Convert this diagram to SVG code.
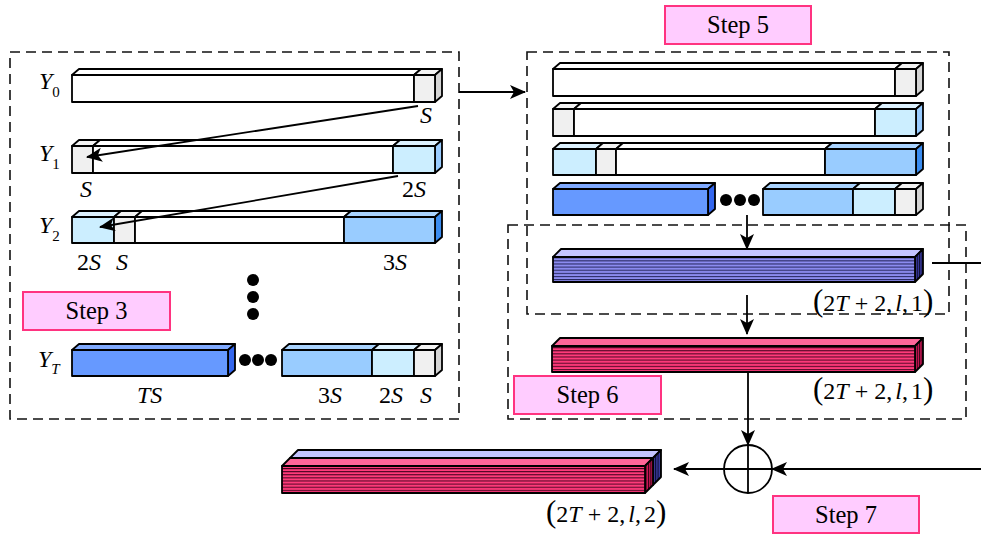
<svg xmlns="http://www.w3.org/2000/svg" width="981" height="534" viewBox="0 0 981 534">
  <defs>
    <style>
      .dash { fill: none; stroke: #111; stroke-width: 1.6; stroke-dasharray: 10 6; }
      .bar { stroke: #000; stroke-width: 1.8; stroke-linejoin: round; }
      .wf { fill: #ffffff; } .wt { fill: #ffffff; }
      .gf { fill: #f0f0f0; } .gt { fill: #f4f4f4; } .gs { fill: #d4d4d4; }
      .lf { fill: #cceeff; } .lt { fill: #ddf2ff; } .ls { fill: #99ccff; }
      .mf { fill: #99ccff; } .mt { fill: #aad4ff; } .ms { fill: #3a8cf0; }
      .df { fill: #6699ff; } .dt { fill: #80aaff; } .ds { fill: #3366ee; }
      .step rect { fill: #ffccff; stroke: #ff3380; stroke-width: 2; }
      .step text { font-family: "Liberation Serif", "Times New Roman", serif; font-size: 24.5px; text-anchor: middle; fill: #000; }
      .m { font-family: "Liberation Serif", "Times New Roman", serif; font-size: 24px; font-style: italic; fill: #000; }
      .n { font-style: normal; }
      .sub { font-size: 15px; }
      .dot { fill: #000; }
      .con { fill: none; stroke: #000; stroke-width: 1.8; }
    </style>
    <marker id="ah" markerUnits="userSpaceOnUse" viewBox="0 0 16 14" refX="15" refY="7" markerWidth="16" markerHeight="14" orient="auto">
      <path d="M0,0 L16,7 L0,14 L4,7 Z" fill="#000"/>
    </marker>
    <pattern id="bstripe" patternUnits="userSpaceOnUse" width="10" height="3.1">
      <rect width="10" height="3.1" fill="#8c8cf0"/>
      <rect width="10" height="1" fill="#1c1c50"/>
    </pattern>
    <pattern id="rstripe" patternUnits="userSpaceOnUse" width="10" height="3.1">
      <rect width="10" height="3.1" fill="#ff3a7a"/>
      <rect width="10" height="1" fill="#40001c"/>
    </pattern>
    <pattern id="bside" patternUnits="userSpaceOnUse" width="2.4" height="10">
      <rect width="2.4" height="10" fill="#3a3aa0"/>
      <rect width="1" height="10" fill="#0a0a28"/>
    </pattern>
    <pattern id="rside" patternUnits="userSpaceOnUse" width="2.4" height="10">
      <rect width="2.4" height="10" fill="#d01858"/>
      <rect width="1" height="10" fill="#2a0010"/>
    </pattern>
  </defs>

  <!-- dashed frames -->
  <g id="frames">
    <rect class="dash" x="10" y="52" width="449" height="367"/>
    <rect class="dash" x="527" y="52" width="422" height="262"/>
    <rect class="dash" x="508" y="225" width="458" height="194"/>
  </g>

  <!-- Y0 -->
  <g id="y0" class="bar">
    <polygon class="wt" points="72,75 79,69 421,69 414,75"/>
    <polygon class="gt" points="414,75 421,69 442,69 435,75"/>
    <polygon class="gs" points="435,75 442,69 442,96 435,102"/>
    <rect class="wf" x="72" y="75" width="342" height="27"/>
    <rect class="gf" x="414" y="75" width="21" height="27"/>
  </g>

  <!-- Y1 -->
  <g id="y1" class="bar">
    <polygon class="gt" points="72,146 79,140 100,140 93,146"/>
    <polygon class="wt" points="93,146 100,140 400,140 393,146"/>
    <polygon class="lt" points="393,146 400,140 442,140 435,146"/>
    <polygon class="ls" points="435,146 442,140 442,167 435,173"/>
    <rect class="gf" x="72" y="146" width="21" height="27"/>
    <rect class="wf" x="93" y="146" width="300" height="27"/>
    <rect class="lf" x="393" y="146" width="42" height="27"/>
  </g>

  <!-- Y2 -->
  <g id="y2" class="bar">
    <polygon class="lt" points="72,217 79,211 121,211 114,217"/>
    <polygon class="gt" points="114,217 121,211 142,211 135,217"/>
    <polygon class="wt" points="135,217 142,211 351,211 344,217"/>
    <polygon class="mt" points="344,217 351,211 442,211 435,217"/>
    <polygon class="ms" points="435,217 442,211 442,237 435,243"/>
    <rect class="lf" x="72" y="217" width="42" height="26"/>
    <rect class="gf" x="114" y="217" width="21" height="26"/>
    <rect class="wf" x="135" y="217" width="209" height="26"/>
    <rect class="mf" x="344" y="217" width="91" height="26"/>
  </g>

  <!-- YT -->
  <g id="yt" class="bar">
    <polygon class="dt" points="72,350 79,344 235,344 228,350"/>
    <polygon class="ds" points="228,350 235,344 235,370 228,376"/>
    <rect class="df" x="72" y="350" width="156" height="26"/>
    <polygon class="mt" points="282,350 289,344 379,344 372,350"/>
    <polygon class="lt" points="372,350 379,344 421,344 414,350"/>
    <polygon class="gt" points="414,350 421,344 442,344 435,350"/>
    <polygon class="gs" points="435,350 442,344 442,370 435,376"/>
    <rect class="mf" x="282" y="350" width="90" height="26"/>
    <rect class="lf" x="372" y="350" width="42" height="26"/>
    <rect class="gf" x="414" y="350" width="21" height="26"/>
  </g>

  <!-- ellipsis dots -->
  <g id="dots">
    <circle class="dot" cx="253" cy="280" r="6"/>
    <circle class="dot" cx="253" cy="297" r="6"/>
    <circle class="dot" cx="253" cy="314" r="6"/>
    <circle class="dot" cx="245" cy="360" r="6"/>
    <circle class="dot" cx="258" cy="360" r="6"/>
    <circle class="dot" cx="271" cy="360" r="6"/>
    <circle class="dot" cx="726" cy="200" r="6"/>
    <circle class="dot" cx="740" cy="200" r="6"/>
    <circle class="dot" cx="754" cy="200" r="6"/>
  </g>

  <!-- left labels -->
  <g id="labels-left">
    <text class="m" x="39" y="89">Y<tspan class="sub n" dy="8">0</tspan></text>
    <text class="m" x="39" y="161">Y<tspan class="sub n" dy="8">1</tspan></text>
    <text class="m" x="39" y="233">Y<tspan class="sub n" dy="8">2</tspan></text>
    <text class="m" x="38" y="367">Y<tspan class="sub" dy="7">T</tspan></text>
    <text class="m" x="420" y="123">S</text>
    <text class="m" x="80" y="197">S</text>
    <text class="m" x="402" y="197"><tspan class="n">2</tspan>S</text>
    <text class="m" x="77" y="270"><tspan class="n">2</tspan>S</text>
    <text class="m" x="116" y="270">S</text>
    <text class="m" x="383" y="270"><tspan class="n">3</tspan>S</text>
    <text class="m" x="137" y="403">TS</text>
    <text class="m" x="318" y="403"><tspan class="n">3</tspan>S</text>
    <text class="m" x="379" y="403"><tspan class="n">2</tspan>S</text>
    <text class="m" x="420" y="403">S</text>
  </g>

  <!-- Step 5 rows -->
  <g id="r1" class="bar">
    <polygon class="wt" points="553,69 560,63 902,63 895,69"/>
    <polygon class="gt" points="895,69 902,63 923,63 916,69"/>
    <polygon class="gs" points="916,69 923,63 923,90 916,96"/>
    <rect class="wf" x="553" y="69" width="342" height="27"/>
    <rect class="gf" x="895" y="69" width="21" height="27"/>
  </g>
  <g id="r2" class="bar">
    <polygon class="gt" points="553,109 560,103 581,103 574,109"/>
    <polygon class="wt" points="574,109 581,103 882,103 875,109"/>
    <polygon class="lt" points="875,109 882,103 923,103 916,109"/>
    <polygon class="ls" points="916,109 923,103 923,130 916,136"/>
    <rect class="gf" x="553" y="109" width="21" height="27"/>
    <rect class="wf" x="574" y="109" width="301" height="27"/>
    <rect class="lf" x="875" y="109" width="41" height="27"/>
  </g>
  <g id="r3" class="bar">
    <polygon class="lt" points="553,149 560,143 603,143 596,149"/>
    <polygon class="gt" points="596,149 603,143 623,143 616,149"/>
    <polygon class="wt" points="616,149 623,143 832,143 825,149"/>
    <polygon class="mt" points="825,149 832,143 923,143 916,149"/>
    <polygon class="ms" points="916,149 923,143 923,169 916,175"/>
    <rect class="lf" x="553" y="149" width="43" height="26"/>
    <rect class="gf" x="596" y="149" width="20" height="26"/>
    <rect class="wf" x="616" y="149" width="209" height="26"/>
    <rect class="mf" x="825" y="149" width="91" height="26"/>
  </g>
  <g id="r4" class="bar">
    <polygon class="dt" points="553,189 560,183 715,183 708,189"/>
    <polygon class="ds" points="708,189 715,183 715,209 708,215"/>
    <rect class="df" x="553" y="189" width="155" height="26"/>
    <polygon class="mt" points="763,189 770,183 860,183 853,189"/>
    <polygon class="lt" points="853,189 860,183 902,183 895,189"/>
    <polygon class="gt" points="895,189 902,183 923,183 916,189"/>
    <polygon class="gs" points="916,189 923,183 923,209 916,215"/>
    <rect class="mf" x="763" y="189" width="90" height="26"/>
    <rect class="lf" x="853" y="189" width="42" height="26"/>
    <rect class="gf" x="895" y="189" width="21" height="26"/>
  </g>

  <!-- stacked feature maps -->
  <g id="blue-stack" class="bar">
    <polygon fill="#c4c4ff" points="553,257 561,249 923,249 915,257"/>
    <polygon fill="url(#bside)" points="915,257 923,249 923,274 915,282"/>
    <rect fill="url(#bstripe)" x="553" y="257" width="362" height="25"/>
  </g>
  <g id="red-stack" class="bar">
    <polygon fill="#ff6699" points="552,346 560,338 923,338 915,346"/>
    <polygon fill="url(#rside)" points="915,346 923,338 923,364 915,372"/>
    <rect fill="url(#rstripe)" x="552" y="346" width="363" height="26"/>
  </g>
  <g id="merged-stack" class="bar">
    <polygon fill="#c4c4ff" points="290,458 298,450 661,450 653,458"/>
    <polygon fill="#ff6699" points="282,466 290,458 653,458 645,466"/>
    <polygon fill="url(#bside)" points="653,458 661,450 661,477 653,485"/>
    <polygon fill="url(#rside)" points="645,466 653,458 653,485 645,493"/>
    <rect fill="url(#rstripe)" x="282" y="466" width="363" height="27"/>
  </g>

  <!-- shape labels -->
  <g id="shape-labels">
    <text class="m n" x="813" y="311" font-size="23"><tspan font-size="31">(</tspan>2<tspan class="m" font-size="23">T</tspan> + 2,<tspan class="m" font-size="23" dx="3">l</tspan>,<tspan dx="3">1</tspan><tspan font-size="31">)</tspan></text>
    <text class="m n" x="813" y="399" font-size="23"><tspan font-size="31">(</tspan>2<tspan class="m" font-size="23">T</tspan> + 2,<tspan class="m" font-size="23" dx="3">l</tspan>,<tspan dx="3">1</tspan><tspan font-size="31">)</tspan></text>
    <text class="m n" x="546" y="522" font-size="23"><tspan font-size="31">(</tspan>2<tspan class="m" font-size="23">T</tspan> + 2,<tspan class="m" font-size="23" dx="3">l</tspan>,<tspan dx="3">2</tspan><tspan font-size="31">)</tspan></text>
  </g>

  <!-- step tags -->
  <g id="step3" class="step"><rect x="23" y="292" width="147" height="38"/><text x="96.5" y="319">Step 3</text></g>
  <g id="step5" class="step"><rect x="665" y="6" width="146" height="38"/><text x="738" y="33">Step 5</text></g>
  <g id="step6" class="step"><rect x="514" y="376" width="147" height="38"/><text x="587.5" y="403">Step 6</text></g>
  <g id="step7" class="step"><rect x="773" y="496" width="146" height="37"/><text x="846" y="523">Step 7</text></g>

  <!-- adder -->
  <g id="adder">
    <circle cx="748" cy="469" r="24" fill="#fff" stroke="#000" stroke-width="1.8"/>
    <line x1="748" y1="445" x2="748" y2="493" stroke="#000" stroke-width="1.8"/>
    <line x1="724" y1="469" x2="772" y2="469" stroke="#000" stroke-width="1.8"/>
  </g>

  <!-- connectors -->
  <g id="connectors">
    <line class="con" x1="418" y1="106" x2="87" y2="157" marker-end="url(#ah)"/>
    <line class="con" x1="398" y1="176" x2="100" y2="227" marker-end="url(#ah)"/>
    <line class="con" x1="459" y1="92" x2="525" y2="92" marker-end="url(#ah)"/>
    <line class="con" x1="747" y1="215" x2="747" y2="249" marker-end="url(#ah)"/>
    <line class="con" x1="747" y1="295" x2="747" y2="334" marker-end="url(#ah)"/>
    <line class="con" x1="748" y1="372" x2="748" y2="445" marker-end="url(#ah)"/>
    <line class="con" x1="932" y1="263" x2="981" y2="263"/>
    <line class="con" x1="981" y1="469" x2="772" y2="469" marker-end="url(#ah)"/>
    <line class="con" x1="724" y1="469" x2="674" y2="469" marker-end="url(#ah)"/>
  </g>
</svg>
